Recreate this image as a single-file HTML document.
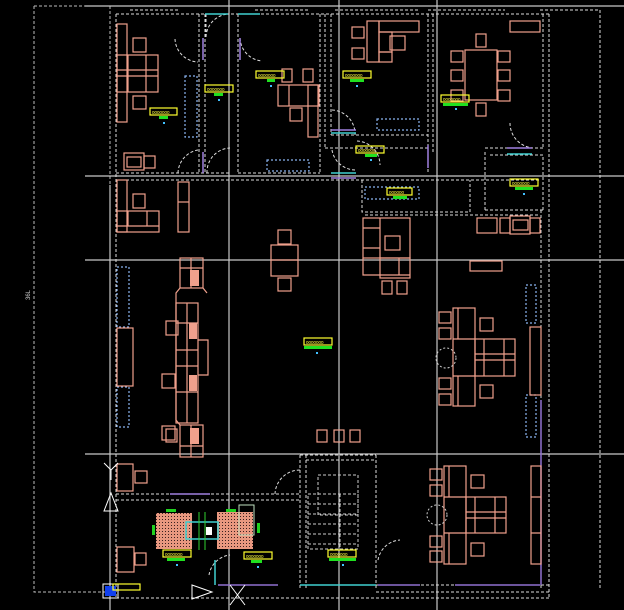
<!DOCTYPE html>
<html><head><style>
html,body{margin:0;padding:0;background:#000;}
svg{display:block}
text{font-family:"Liberation Sans",sans-serif}
</style></head><body>
<svg width="624" height="610" viewBox="0 0 624 610" xmlns="http://www.w3.org/2000/svg">
<rect width="624" height="610" fill="#000"/>
<g stroke="#bbb" stroke-width="1" fill="none" stroke-dasharray="3,2">
<path d="M34 6 H85 M34 6 V592 H110"/>
<path d="M110 6 V185"/>
</g>
<g stroke="#c8c8c8" stroke-width="1.2" fill="none">
<path d="M85 6 H624 M85 176 H624 M85 260 H624 M85 454 H624"/>
<path d="M110 185 V610 M229 0 V610 M339 0 V610 M437 0 V610"/>
</g>
<text x="30" y="300" fill="#ccc" font-size="6" transform="rotate(-90 30 300)">36L</text>
<g stroke="#ddd" stroke-width="1" fill="none" stroke-dasharray="3,2">
<path d="M116 14 V598 M549 14 V598 M116 14 H549 M116 598 H549"/>
<path d="M130 10 H180 M255 10 H310 M335 10 H420 M428 10 H505 M540 10 H600"/>
<path d="M600 10 V590"/>
<path d="M116 173 H229 M238 14 V173 M320 14 V173 M238 173 H320"/>
<path d="M199 14 V173 M205 14 V173"/>
<path d="M325 14 V148 M331 14 V135 M325 148 H428 M331 135 H428 M428 14 V173"/>
<path d="M433 14 V152 M543 14 V148 M485 148 H543 M485 152 V210 M485 210 H543 M490 155 H543 V210"/>
<path d="M116 180 H540 M365 215 H540"/>
<path d="M362 180 V212 H470 V180"/>
<path d="M300 455 V590 M306 455 V590 M376 455 V590 M300 455 H376 M306 460 H376"/>
<path d="M116 494 H300 M116 500 H300"/>
<path d="M376 585 H549 M376 592 H549"/>
<path d="M541 210 V590"/>
</g>
<g stroke="#ddd" stroke-width="1" fill="none" stroke-dasharray="3,2">
<path d="M175 39 A24 24 0 0 0 198 62"/>
<path d="M206 14 V38 A24 24 0 0 1 228 14"/>
<path d="M178 173 A24 24 0 0 1 198 150"/>
<path d="M207 173 A24 24 0 0 1 230 148"/>
<path d="M240 38 A24 24 0 0 0 262 61"/>
<path d="M332 110 A24 24 0 0 1 355 135"/>
<path d="M332 150 A24 24 0 0 0 355 170"/>
<path d="M357 141 A24 24 0 0 1 380 165"/>
<path d="M510 123 A25 25 0 0 0 533 148"/>
<path d="M275 494 A25 25 0 0 1 300 470"/>
<path d="M378 560 A24 24 0 0 1 400 540"/>
<path d="M209 575 A24 24 0 0 1 230 555"/>
</g>
<g stroke-width="1.5" fill="none">
<path d="M203 38 V60 M203 152 V173 M240 38 V60 M428 145 V168" stroke="#a080e0"/>
<path d="M205 14 H228 M238 14 H260 M331 133 H356 M507 154 H532 M331 173 H356" stroke="#40d0d0"/>
<path d="M331 130 H356 M507 148 H532 M331 178 H356 M170 494 H210" stroke="#a080e0"/>
<path d="M455 585 H540 M218 585 H278 M378 585 H420 M541 400 V585" stroke="#9070d0"/>
<path d="M300 585 H376 M215 560 V585" stroke="#40d0d0"/>
</g>
<g stroke="#8ab4f0" stroke-width="1.2" fill="none" stroke-dasharray="2,2">
<rect x="185" y="76" width="12" height="61"/>
<rect x="267" y="160" width="42" height="11"/>
<rect x="377" y="119" width="42" height="11"/>
<rect x="365" y="187" width="54" height="12"/>
<rect x="117" y="267" width="12" height="60"/>
<rect x="117" y="387" width="12" height="40"/>
<rect x="526" y="285" width="10" height="38"/>
<rect x="526" y="395" width="10" height="42"/>
</g>
<g stroke="#f0a08c" stroke-width="1.2" fill="none">
<rect x="117" y="24" width="10" height="98"/>
<rect x="117" y="55" width="41" height="37"/><path d="M117 70 H158 M117 76 H158 M128 55 V92 M146 55 V92"/>
<rect x="133" y="38" width="13" height="14"/><rect x="133" y="96" width="13" height="13"/>
<rect x="124" y="153" width="20" height="17"/><rect x="144" y="156" width="11" height="12"/><rect x="127" y="157" width="14" height="10"/>
<rect x="278" y="85" width="41" height="21"/><rect x="308" y="85" width="10" height="52"/><path d="M289 85 V106"/>
<rect x="282" y="69" width="10" height="13"/><rect x="303" y="69" width="10" height="13"/><rect x="290" y="108" width="12" height="13"/>
<rect x="367" y="21" width="12" height="41"/><rect x="379" y="21" width="40" height="11"/><rect x="379" y="32" width="13" height="20"/><rect x="379" y="52" width="13" height="10"/>
<rect x="352" y="27" width="12" height="11"/><rect x="352" y="48" width="12" height="11"/><rect x="390" y="36" width="15" height="14"/>
<rect x="465" y="50" width="32" height="50"/>
<rect x="476" y="34" width="10" height="13"/><rect x="476" y="103" width="10" height="13"/>
<rect x="451" y="51" width="12" height="11"/><rect x="451" y="70" width="12" height="11"/><rect x="451" y="90" width="12" height="11"/>
<rect x="498" y="51" width="12" height="11"/><rect x="498" y="70" width="12" height="11"/><rect x="498" y="90" width="12" height="11"/>
<rect x="510" y="21" width="30" height="11"/>
<rect x="117" y="180" width="10" height="52"/><rect x="117" y="211" width="42" height="21"/><path d="M117 226 H159 M128 211 V226 M147 211 V226"/>
<rect x="133" y="194" width="12" height="14"/>
<rect x="178" y="182" width="11" height="50"/><path d="M178 202 H189"/>
<rect x="271" y="245" width="27" height="31"/><path d="M271 260 H298"/>
<rect x="278" y="230" width="13" height="14"/><rect x="278" y="278" width="13" height="13"/>
<rect x="363" y="218" width="47" height="40"/><path d="M363 228 H380 M363 248 H380 M380 218 V258"/>
<rect x="380" y="258" width="30" height="20"/><path d="M363 258 V275 H410"/><path d="M399 258 V275"/>
<rect x="385" y="236" width="15" height="14"/>
<rect x="382" y="281" width="10" height="13"/><rect x="397" y="281" width="10" height="13"/>
<rect x="477" y="218" width="20" height="15"/><rect x="500" y="218" width="10" height="15"/><rect x="510" y="216" width="20" height="18"/><rect x="530" y="218" width="10" height="15"/><rect x="513" y="220" width="15" height="10"/>
<rect x="470" y="261" width="32" height="10"/>
<rect x="180" y="258" width="23" height="30"/><path d="M191 258 V288 M180 268 H203"/>
<path d="M180 288 L176 293 V420 L180 425 M203 288 L207 293"/>
<rect x="176" y="303" width="22" height="120"/><path d="M176 323 H198 M176 350 H198 M176 366 H198 M176 392 H198 M187 303 V423"/>
<path d="M198 340 H208 V375 H198"/>
<rect x="180" y="425" width="23" height="32"/><path d="M191 425 V457 M180 446 H203"/>
<rect x="166" y="321" width="12" height="14"/><rect x="162" y="374" width="13" height="14"/><rect x="162" y="426" width="13" height="14"/><rect x="166" y="429" width="11" height="13"/>
<rect x="117" y="328" width="16" height="58"/>
<rect x="117" y="464" width="16" height="27"/><rect x="135" y="471" width="12" height="12"/>
<rect x="117" y="547" width="17" height="25"/><rect x="135" y="553" width="11" height="12"/>
<rect x="453" y="308" width="22" height="98"/><path d="M458 308 V339 M453 339 H475 M453 376 H475 M458 376 V406"/>
<rect x="475" y="339" width="40" height="37"/><path d="M475 354 H515 M475 360 H515 M484 339 V376 M504 339 V376"/>
<rect x="439" y="312" width="12" height="11"/><rect x="439" y="328" width="12" height="11"/><rect x="439" y="378" width="12" height="11"/><rect x="439" y="394" width="12" height="11"/>
<rect x="480" y="318" width="13" height="13"/><rect x="480" y="385" width="13" height="13"/>
<rect x="530" y="327" width="11" height="68"/>
<rect x="444" y="466" width="22" height="98"/><path d="M449 466 V497 M444 497 H466 M444 533 H466 M449 533 V564"/>
<rect x="466" y="497" width="40" height="36"/><path d="M466 512 H506 M466 518 H506 M475 497 V533 M495 497 V533"/>
<rect x="430" y="469" width="12" height="11"/><rect x="430" y="485" width="12" height="11"/><rect x="430" y="536" width="12" height="11"/><rect x="430" y="551" width="12" height="11"/>
<rect x="471" y="475" width="13" height="13"/><rect x="471" y="543" width="13" height="13"/>
<rect x="531" y="466" width="10" height="98"/><path d="M531 497 H541 M531 533 H541"/>
<rect x="317" y="430" width="10" height="12"/><rect x="334" y="430" width="10" height="12"/><rect x="350" y="430" width="10" height="12"/>
</g>
<g fill="#f0a08c"><rect x="190" y="270" width="9" height="16"/><rect x="189" y="323" width="8" height="16"/><rect x="189" y="375" width="8" height="16"/><rect x="190" y="428" width="9" height="16"/></g>
<g stroke="#ccc" stroke-dasharray="2,2" fill="none"><circle cx="446" cy="358" r="10"/><circle cx="437" cy="515" r="10"/></g>
<g stroke="#ccc" stroke-width="1" fill="none" stroke-dasharray="3,2">
<rect x="318" y="475" width="40" height="40"/><rect x="308" y="494" width="50" height="55"/>
<path d="M308 504 H358 M308 514 H358 M308 524 H358 M308 534 H358 M308 544 H358 M340 494 V549"/>
</g>
<defs><pattern id="h" width="3" height="3" patternUnits="userSpaceOnUse"><rect width="3" height="3" fill="#e89880"/><rect width="1" height="1" fill="#3a2020"/></pattern></defs>
<rect x="156" y="513" width="36" height="36" fill="url(#h)"/>
<rect x="217" y="512" width="36" height="37" fill="url(#h)"/>
<rect x="186" y="522" width="32" height="17" fill="none" stroke="#40d0d0" stroke-width="1.5"/>
<rect x="206" y="527" width="6" height="8" fill="#fff"/>
<rect x="239" y="505" width="15" height="30" fill="none" stroke="#c0e0c0"/>
<path d="M199 512 V550 M205 512 V550" stroke="#30d030"/>
<g fill="#20d020"><rect x="166" y="509" width="10" height="3"/><rect x="226" y="509" width="10" height="3"/><rect x="152" y="525" width="3" height="10"/><rect x="257" y="523" width="3" height="10"/></g>
<g stroke="#fff" fill="none" stroke-width="1">
<path d="M104 463 L111 470 L118 463 M111 470 V480"/>
<path d="M104 511 L111 493 L118 511 Z"/>
<path d="M192 585 L212 592 L192 599 Z"/>
<path d="M230 585 L245 605 M245 585 L230 605"/>
<rect x="103" y="584" width="15" height="14"/>
</g>
<rect x="105" y="586" width="11" height="10" fill="#1040f0"/>
<g stroke="#ffff30" fill="none" stroke-width="1.2">
<rect x="150" y="108" width="27" height="7"/><rect x="205" y="85" width="28" height="7"/><rect x="256" y="71" width="28" height="7"/>
<rect x="343" y="71" width="28" height="7"/><rect x="441" y="95" width="28" height="7"/><rect x="356" y="146" width="28" height="7"/>
<rect x="387" y="188" width="25" height="7"/><rect x="510" y="179" width="28" height="7"/><rect x="304" y="338" width="28" height="7"/>
<rect x="163" y="550" width="28" height="7"/><rect x="244" y="552" width="28" height="7"/><rect x="328" y="550" width="28" height="7"/>
<rect x="113" y="584" width="27" height="6"/>
</g>
<g fill="#ffff40" font-size="4.5">
<text x="152" y="114">0000000</text><text x="207" y="91">0000000</text><text x="258" y="77">0000000</text>
<text x="345" y="77">0000000</text><text x="443" y="101">0000000</text><text x="358" y="152">0000000</text>
<text x="389" y="194">000000</text><text x="512" y="185">0000000</text><text x="306" y="344">0000000</text>
<text x="165" y="556">0000000</text><text x="246" y="558">0000000</text><text x="330" y="556">0000000</text>
</g>
<g fill="#20e020">
<rect x="159" y="116" width="9" height="3"/><rect x="214" y="93" width="9" height="3"/><rect x="267" y="79" width="8" height="3"/>
<rect x="350" y="79" width="14" height="3"/><rect x="443" y="103" width="25" height="3"/><rect x="365" y="154" width="12" height="3"/>
<rect x="393" y="196" width="14" height="3"/><rect x="515" y="187" width="18" height="3"/><rect x="304" y="346" width="28" height="3"/>
<rect x="167" y="558" width="18" height="3"/><rect x="251" y="560" width="11" height="3"/><rect x="329" y="558" width="27" height="3"/>
</g>
<g fill="#40c0ff"><rect x="163" y="122" width="2" height="2"/><rect x="218" y="99" width="2" height="2"/><rect x="270" y="85" width="2" height="2"/><rect x="356" y="85" width="2" height="2"/><rect x="455" y="108" width="2" height="2"/><rect x="370" y="159" width="2" height="2"/><rect x="523" y="193" width="2" height="2"/><rect x="316" y="352" width="2" height="2"/><rect x="176" y="564" width="2" height="2"/><rect x="257" y="566" width="2" height="2"/><rect x="342" y="564" width="2" height="2"/></g>
</svg>
</body></html>
